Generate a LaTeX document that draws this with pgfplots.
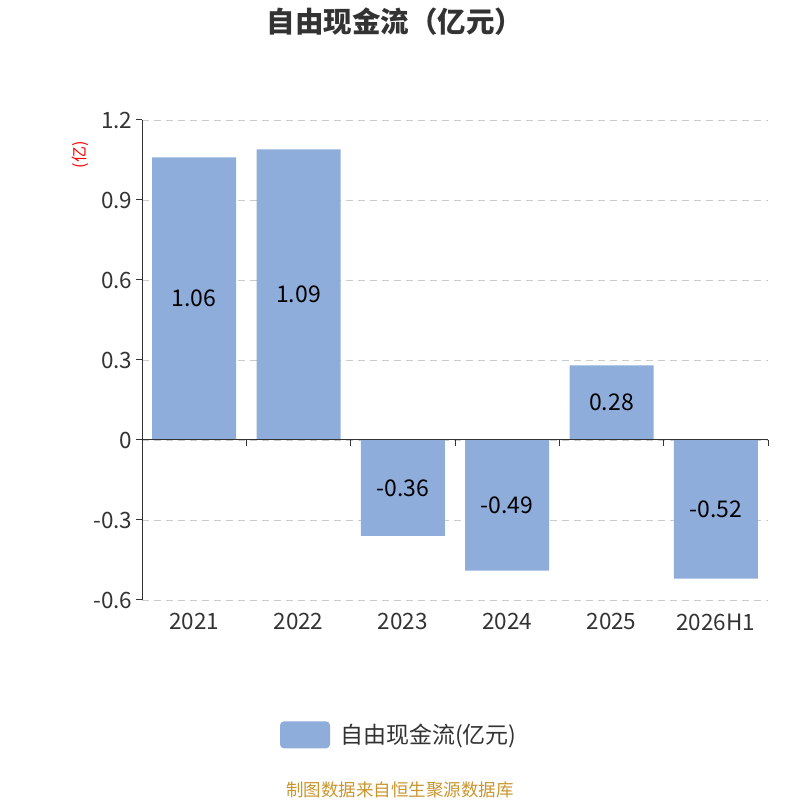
\documentclass[border=0pt]{standalone}
\usepackage{fontspec}
\setmainfont{Noto Sans CJK SC}
\usepackage{pgfplots}
\pgfplotsset{compat=1.18}
\definecolor{barc}{HTML}{8EADDB}
\definecolor{txt}{HTML}{333333}
\definecolor{foot}{HTML}{C8962D}
\definecolor{gridc}{HTML}{CCCCCC}
\begin{document}
\begin{tikzpicture}[x=1pt,y=1pt]
\path[use as bounding box] (0,0) rectangle (800,800);
\node[font=\fontsize{28.5}{32}\selectfont\bfseries, text=txt] at (395,778) {自由现金流（亿元）};
\node[font=\fontsize{17.5}{20}\selectfont, text=foot] at (400,10) {制图数据来自恒生聚源数据库};
\node[font=\fontsize{16}{18}\selectfont, text=red, rotate=90] at (80,645) {(亿)};
\begin{axis}[at={(142pt,200pt)}, anchor=south west, width=626pt, height=480pt, scale only axis,
  xmin=-0.5, xmax=5.5, ymin=-0.6, ymax=1.2,
  clip=false,
  axis y line*=left, axis x line*=bottom,
  x axis line style={draw=none},
  y axis line style={draw=txt, line width=1pt},
  xtick={0,1,2,3,4,5},
  xticklabels={2021,2022,2023,2024,2025,2026H1},
  x tick style={draw=none},
  ytick={-0.6,-0.3,0,0.3,0.6,0.9,1.2},
  yticklabels={-0.6,-0.3,0,0.3,0.6,0.9,1.2},
  y tick style={draw=txt, line width=1pt},
  tick align=outside, major tick length=6pt,
  ymajorgrids, grid style={gridc, dashed, dash pattern=on 7pt off 5pt, line width=0.8pt},
  ticklabel style={font=\fontsize{22.5}{26}\selectfont, text=txt},
  xticklabel style={yshift=-4pt},
  legend style={draw=none, at={(0.411,-0.281)}, anchor=center, font=\fontsize{23}{27}\selectfont, text=txt},
  legend image code/.code={\fill[barc, rounded corners=4pt] (0pt,-13.5pt) rectangle (50pt,13.5pt); \path (58pt,0pt);},
]
\addplot[ybar, bar width=84pt, fill=barc, draw=none,
  nodes near coords, point meta=explicit symbolic,
  visualization depends on={-0.5*rawy \as \hshift},
  every node near coord/.append style={anchor=center, font=\fontsize{23}{27}\selectfont, text=black, shift={(axis direction cs:0,\hshift)}},
] table[x=x, y=y, meta=lab] {
x y lab
0 1.06 1.06
1 1.09 1.09
2 -0.36 -0.36
3 -0.49 -0.49
4 0.28 0.28
5 -0.52 -0.52
};
\addlegendentry{自由现金流(亿元)}
\draw[txt, line width=1pt] (axis cs:-0.5,0) -- (axis cs:5.5,0);
\pgfplotsinvokeforeach{0.5,1.5,2.5,3.5,4.5,5.5}{\draw[txt, line width=1pt] (axis cs:#1,0) -- ++(0pt,-6pt);}
\end{axis}
\end{tikzpicture}
\end{document}
